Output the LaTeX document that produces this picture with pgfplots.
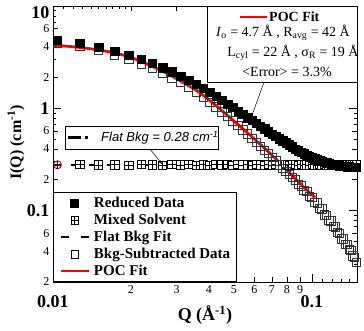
\documentclass[border=0pt]{standalone}
\usepackage{fontspec}
\setmainfont{Liberation Serif}
\setsansfont{Liberation Sans}
\usepackage{pgfplots}
\usepackage{pgfplotstable}
\pgfplotsset{compat=1.18}
\usetikzlibrary{arrows.meta}

% square with a plus inside (mixed-solvent points)
\pgfdeclareplotmark{sqplus}{%
  \pgfpathrectanglecorners{\pgfqpoint{-\pgfplotmarksize}{-\pgfplotmarksize}}{\pgfqpoint{\pgfplotmarksize}{\pgfplotmarksize}}%
  \pgfusepathqfillstroke
  \pgfpathmoveto{\pgfqpoint{-\pgfplotmarksize}{0pt}}\pgfpathlineto{\pgfqpoint{\pgfplotmarksize}{0pt}}%
  \pgfpathmoveto{\pgfqpoint{0pt}{-\pgfplotmarksize}}\pgfpathlineto{\pgfqpoint{0pt}{\pgfplotmarksize}}%
  \pgfusepathqstroke}

% Q (1/A), reduced data, background-subtracted data, mixed solvent
\pgfplotstableread{
Q      red    sub    mix
0.0104 4.64   4.36   0.280
0.0127 4.34   4.06   0.282
0.0150 3.95   3.67   0.279
0.0173 3.60   3.32   0.281
0.0196 3.30   3.02   0.278
0.0219 3.00   2.72   0.283
0.0242 2.74   2.46   0.280
0.0265 2.50   2.22   0.277
0.0288 2.27   1.99   0.282
0.0311 2.07   1.79   0.279
0.0334 1.89   1.61   0.284
0.0357 1.72   1.44   0.278
0.0380 1.57   1.29   0.281
0.0403 1.43   1.15   0.276
0.0426 1.31   1.03   0.283
0.0449 1.20   0.92   0.280
0.0472 1.10   0.83   0.285
0.0495 1.02   0.75   0.278
0.0518 0.94   0.68   0.282
0.0541 0.87   0.615  0.279
0.0564 0.81   0.56   0.281
0.0587 0.76   0.51   0.277
0.0610 0.71   0.465  0.283
0.0633 0.67   0.425  0.280
0.0656 0.63   0.39   0.278
0.0679 0.59   0.36   0.284
0.0702 0.56   0.33   0.279
0.0725 0.53   0.305  0.282
0.0748 0.505  0.28   0.276
0.0771 0.48   0.26   0.281
0.0794 0.46   0.24   0.283
0.0817 0.44   0.225  0.278
0.0840 0.42   0.21   0.280
0.0863 0.40   0.200  0.285
0.0886 0.385  0.180  0.277
0.0909 0.37   0.174  0.282
0.0932 0.358  0.157  0.279
0.0955 0.347  0.153  0.281
0.0978 0.337  0.138  0.276
0.1001 0.328  0.135  0.283
0.1024 0.320  0.121  0.280
0.1047 0.313  0.119  0.278
0.1070 0.307  0.105  0.282
0.1093 0.302  0.104  0.279
0.1116 0.297  0.091  0.284
0.1139 0.293  0.090  0.277
0.1162 0.289  0.080  0.281
0.1185 0.285  0.079  0.279
0.1208 0.282  0.070  0.282
0.1231 0.279  0.069  0.278
0.1254 0.277  0.061  0.280
0.1277 0.275  0.060  0.283
0.1300 0.273  0.053  0.277
0.1323 0.271  0.053  0.281
0.1346 0.270  0.047  0.279
0.1369 0.269  0.047  0.282
0.1392 0.268  0.042  0.278
0.1415 0.267  0.041  0.280
0.1438 0.266  0.036  0.284
0.1461 0.265  0.035  0.279
0.1484 0.264  0.031  0.281
}\datatable

% POC model fit
\pgfplotstableread{
Q      fit
0.0100 4.15
0.0125 3.95
0.0152 3.70
0.0178 3.42
0.0204 3.09
0.0238 2.62
0.0275 2.20
0.0320 1.77
0.0369 1.42
0.0430 1.04
0.0496 0.763
0.0580 0.54
0.0670 0.387
0.0780 0.266
0.0899 0.184
0.1027 0.134
}\fittable

\pgfplotsset{
  legend image code/.code={%
    \draw[mark repeat=2,mark phase=2,#1]
      plot coordinates {(0bp,0bp) (14bp,0bp) (28bp,0bp)};},
}

\newcommand{\majfont}{\fontsize{18bp}{21bp}\selectfont\bfseries}
\newcommand{\minfont}{\fontsize{12bp}{14bp}\selectfont}
% decade labels sit lower than the 2..9 labels
\newcommand{\declab}[1]{\rule{0pt}{22bp}#1}

\begin{document}
\begin{tikzpicture}
\path[use as bounding box] (-53bp,-49bp) rectangle (311bp,282bp);
\begin{axis}[
  at={(0,0)}, anchor=south west,
  scale only axis, width=304bp, height=276bp,
  xmode=log, ymode=log,
  xmin=0.01, xmax=0.1493, ymin=0.02, ymax=10,
  axis line style={line width=0.8bp},
  tick align=inside,
  major tick length=8bp, minor tick length=3.5bp,
  tick style={black, line width=0.6bp},
  xtick={0.01,0.1}, xticklabels={\declab{0.01},\declab{0.1}},
  minor xtick={0.011,0.012,0.013,0.014,0.015,0.016,0.017,0.018,0.019,0.11,0.12,0.13,0.14},
  extra x ticks={0.02,0.03,0.04,0.05,0.06,0.07,0.08,0.09},
  extra x tick labels={2,3,4,5,6,7,8,9},
  extra x tick style={grid=none, major tick length=5bp,
    xticklabel style={font=\minfont}},
  xticklabel style={font=\majfont},
  ytick={0.1,1,10}, yticklabels={0.1,1,\rule{0pt}{25bp}10},
  minor ytick={0.03,0.05,0.07,0.08,0.09,0.3,0.5,0.7,0.8,0.9,3,5,7,8,9},
  extra y ticks={0.02,0.04,0.06,0.2,0.4,0.6,2,4,6},
  extra y tick labels={2,4,6,2,4,6,2,4,6},
  extra y tick style={grid=none, major tick length=5bp,
    yticklabel style={font=\minfont}},
  yticklabel style={font=\majfont},
  xlabel={Q (Å\textsuperscript{-1})},
  xlabel style={font=\fontsize{18bp}{21bp}\selectfont\bfseries,
    at={(axis description cs:0.5,0)}, anchor=center, yshift=-33bp},
  ylabel={I(Q) (cm\textsuperscript{-1})},
  ylabel style={font=\fontsize{16bp}{19bp}\selectfont\bfseries,
    at={(axis description cs:-0.1217,0.505)}, anchor=center},
  legend style={at={(0,0)}, anchor=south west, draw=black, line width=0.8bp,
    fill=white, font=\fontsize{15bp}{17bp}\selectfont\bfseries,
    nodes={inner sep=0pt, text height=11bp, text depth=3bp},
    row sep=3bp, column sep=4bp, inner xsep=6bp, inner ysep=3.5bp},
  legend cell align=left,
]
% legend samples
\addlegendimage{only marks, mark=square*, mark size=3.8bp, black}
\addlegendentry{Reduced Data}
\addlegendimage{only marks, mark=sqplus, mark size=3.8bp, mark options={fill=white, line width=0.6bp}, black}
\addlegendentry{Mixed Solvent}
\addlegendimage{black, line width=2.4bp, dash pattern=on 8bp off 12bp}
\addlegendentry{Flat Bkg Fit}
\addlegendimage{only marks, mark=square, mark size=3.8bp, mark options={line width=0.6bp}, black}
\addlegendentry{Bkg-Subtracted Data}
\addlegendimage{red, line width=2.6bp}
\addlegendentry{POC Fit}

% flat background level
\addplot[forget plot, black, line width=2.4bp, dash pattern=on 8bp off 10bp]
  coordinates {(0.01,0.28) (0.1493,0.28)};
% mixed solvent
\addplot[forget plot, only marks, mark=sqplus, mark size=4.2bp,
  mark options={fill=white, draw=black, line width=0.6bp}]
  table[x=Q, y=mix, skip coords between index={0}{1}] {\datatable};
\addplot[forget plot, only marks, mark=oplus, mark size=4bp,
  mark options={draw=red!45!black, fill=white, line width=0.8bp}]
  table[x=Q, y=mix, restrict expr to domain={\coordindex}{0:0}] {\datatable};
% background-subtracted data
\addplot[forget plot, only marks, mark=square, mark size=4.2bp,
  mark options={draw=black!80, line width=0.7bp}]
  table[x=Q, y=sub] {\datatable};
% reduced data
\addplot[forget plot, only marks, mark=square*, mark size=4.2bp,
  mark options={fill=black, draw=black}]
  table[x=Q, y=red] {\datatable};
% POC fit
\addplot[forget plot, red, line width=2.8bp, smooth]
  table[x=Q, y=fit] {\fittable};
\end{axis}

% fit-parameter box
\draw[line width=0.6bp, fill=white] (154bp,200bp) rectangle (304bp,276bp);
\draw[red, line width=2.8bp] (187bp,265bp) -- (214bp,265bp);
\node[anchor=west, font=\fontsize{14bp}{16bp}\selectfont\bfseries, inner sep=0pt]
  at (216bp,265bp) {POC Fit};
\node[font=\fontsize{14bp}{16bp}\selectfont, inner sep=0pt] at (230bp,249bp)
  {\textit{I}\textsubscript{o} = 4.7 Å , R\textsubscript{avg} = 42 Å};
\node[font=\fontsize{14bp}{16bp}\selectfont, inner sep=0pt] at (240bp,229bp)
  {L\textsubscript{cyl} = 22 Å , σ\textsubscript{R} = 19 Å};
\node[font=\fontsize{14bp}{16bp}\selectfont, inner sep=0pt] at (234bp,210bp)
  {<Error> = 3.3\%};
\draw[line width=0.5bp] (211bp,200bp) -- (197bp,161bp);

% background-level box
\draw[line width=0.6bp, fill=white] (12bp,133bp) rectangle (165bp,156bp);
\draw[black, line width=2.4bp] (15bp,144.5bp) -- (28bp,144.5bp);
\draw[black, line width=2.4bp] (32bp,144.5bp) -- (35bp,144.5bp);
\node[anchor=west, font=\fontsize{13bp}{15bp}\selectfont\sffamily\itshape, inner sep=0pt]
  at (48bp,144.5bp) {Flat Bkg = 0.28 cm\textsuperscript{-1}};
\draw[line width=0.5bp, -{Stealth[length=4bp, width=3bp]}] (97bp,133bp) -- (109bp,118bp);
\end{tikzpicture}
\end{document}
